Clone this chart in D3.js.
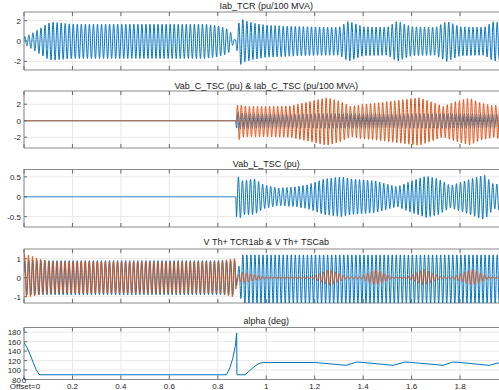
<!DOCTYPE html>
<html>
<head>
<meta charset="utf-8">
<script src="https://cdn.jsdelivr.net/npm/d3@7"></script>
<style>
  html, body { margin: 0; padding: 0; background: #fff; }
  svg { display: block; font-family: 'Liberation Sans', Arial, sans-serif; }
</style>
</head>
<body>
<div id="chart"></div>
<script>
// ---- data ----
const FREQ = 60; // Hz, one stroke pair per cycle
const xTicks = [0, 0.2, 0.4, 0.6, 0.8, 1, 1.2, 1.4, 1.6, 1.8, 2];
const xTickLabels = ['0', '0.2', '0.4', '0.6', '0.8', '1', '1.2', '1.4', '1.6', '1.8', '2'];

const titles = [
  'Iab_TCR (pu/100 MVA)',
  'Vab_C_TSC (pu) & Iab_C_TSC (pu/100 MVA)',
  'Vab_L_TSC (pu)',
  'V Th+ TCR1ab & V Th+ TSCab',
  'alpha (deg)'
];

const yTicks1 = [-2, 0, 2];
const yTicks2 = [-2, 0, 2];
const yTicks3 = [-0.5, 0, 0.5];
const yTicks4 = [-1, 0, 1];
const yTicks5 = [80, 100, 120, 140, 160, 180];

// envelopes (time, upper peak, lower peak)
const iTcrT  = [0, 0.02, 0.04, 0.07, 0.10, 0.12, 0.16, 0.20, 0.75, 0.80, 0.83, 0.85, 0.862, 0.872, 0.884, 0.892, 0.91, 0.95, 1.00, 1.10, 1.20, 1.30, 1.34, 1.40, 1.50, 1.54, 1.60, 1.70, 1.745, 1.80, 1.90, 1.94, 2.00];
const iTcrUp = [0.4, 0.6, 0.85, 1.3, 1.75, 1.85, 1.75, 1.65, 1.65, 1.5, 1.3, 1.0, 0.4, 0.1, 1.5, 2.25, 2.0, 1.75, 1.55, 1.45, 1.38, 1.35, 1.95, 1.4, 1.35, 1.95, 1.4, 1.35, 1.95, 1.4, 1.35, 1.95, 1.45];
const iTcrLo = [0.3, 0.6, 0.9, 1.35, 1.8, 1.9, 1.8, 1.72, 1.72, 1.55, 1.35, 1.05, 0.4, 0.1, 1.6, 2.35, 2.05, 1.8, 1.6, 1.5, 1.42, 1.4, 2.0, 1.45, 1.4, 2.0, 1.45, 1.4, 2.0, 1.45, 1.4, 2.0, 1.5];

const vCT  = [0, 0.874, 0.878, 0.89, 0.95, 1.2, 1.5, 1.8, 2.0];
const vCUp = [0, 0, 1.1, 0.95, 0.85, 0.85, 0.85, 0.85, 0.85];
const vCLo = [0, 0, 1.2, 1.0, 0.9, 0.9, 0.9, 0.9, 0.9];

const iCT  = [0, 0.874, 0.878, 0.886, 0.895, 0.92, 1.00, 1.10, 1.16, 1.25, 1.30, 1.35, 1.40, 1.44, 1.55, 1.63, 1.68, 1.73, 1.78, 1.84, 1.88, 1.94, 2.00];
const iCUp = [0, 0, 1.2, 3.0, 1.9, 1.75, 1.75, 1.8, 2.2, 2.8, 2.4, 1.75, 2.0, 2.1, 2.5, 2.8, 2.3, 1.75, 2.3, 2.75, 2.2, 1.8, 2.4];
const iCLo = [0, 0, 1.2, 2.4, 2.0, 1.95, 1.95, 2.0, 2.4, 3.0, 2.6, 1.95, 2.2, 2.3, 2.7, 3.0, 2.5, 1.95, 2.5, 2.95, 2.4, 2.0, 2.6];

const vLT  = [0, 0.874, 0.877, 0.885, 0.90, 0.95, 0.99, 1.05, 1.12, 1.17, 1.24, 1.31, 1.35, 1.45, 1.54, 1.60, 1.66, 1.71, 1.76, 1.82, 1.90, 1.94, 2.00];
const vLUp = [0, 0, 0.45, 0.5, 0.4, 0.45, 0.3, 0.22, 0.25, 0.3, 0.45, 0.5, 0.45, 0.4, 0.25, 0.4, 0.52, 0.45, 0.28, 0.4, 0.55, 0.3, 0.4];
const vLLo = [0, 0, 0.5, 0.62, 0.45, 0.45, 0.3, 0.22, 0.25, 0.3, 0.45, 0.5, 0.45, 0.4, 0.25, 0.4, 0.52, 0.45, 0.28, 0.4, 0.58, 0.3, 0.4];

const thTcrT  = [0, 0.80, 0.87, 0.88, 0.90, 1.00, 2.00];
const thTcrUp = [0.9, 0.9, 0.9, 0.3, 1.2, 1.2, 1.2];
const thTcrLo = [0.9, 0.9, 0.9, 0.3, 1.35, 1.35, 1.35];

const thTscT  = [0, 0.03, 0.06, 0.10, 0.15, 0.80, 0.86, 0.874, 0.878, 0.90, 0.95, 1.00, 1.19, 1.26, 1.33, 1.39, 1.45, 1.52, 1.58, 1.65, 1.72, 1.77, 1.85, 1.92, 2.00];
const thTscUp = [1.25, 1.15, 1.0, 0.88, 0.85, 0.85, 1.0, 1.0, 0.05, 0.3, 0.15, 0.05, 0.05, 0.45, 0.05, 0.05, 0.45, 0.05, 0.05, 0.45, 0.05, 0.05, 0.45, 0.05, 0.05];
const thTscLo = [1.0, 1.0, 0.9, 0.82, 0.82, 0.82, 1.0, 1.0, 0.05, 0.3, 0.15, 0.05, 0.05, 0.4, 0.05, 0.05, 0.4, 0.05, 0.05, 0.4, 0.05, 0.05, 0.4, 0.05, 0.05];

const alphaT = [0, 0.012, 0.025, 0.038, 0.05, 0.062, 0.066, 0.836, 0.85, 0.862, 0.872, 0.878, 0.879, 0.912, 0.93, 0.95, 0.97, 0.99, 1.2, 1.33, 1.373, 1.4, 1.524, 1.572, 1.6, 1.73, 1.77, 1.8, 1.92, 1.956, 2.0];
const alphaV = [158, 148, 133, 116, 101, 91, 90, 90, 105, 125, 150, 178, 90, 90, 98, 107, 114, 116, 116, 110, 117, 116, 110, 117, 116, 110, 117, 116, 110, 115, 114];

// ---- drawing ----
const W = 499, H = 390;
const BLUE = '#0072bd', ORANGE = '#d95319';
const left = 24, right = 508.5;

const panels = [
  { top: 12,    bottom: 70,    dom: [-2.85, 2.85], ticks: yTicks1, titleY: 9 },
  { top: 91,    bottom: 148,   dom: [-3.3, 3.6],   ticks: yTicks2, titleY: 89 },
  { top: 169.5, bottom: 227,   dom: [-0.76, 0.685], ticks: yTicks3, titleY: 167 },
  { top: 249,   bottom: 303,   dom: [-1.33, 1.51], ticks: yTicks4, titleY: 245 },
  { top: 327.5, bottom: 379.5, dom: [80, 190],     ticks: yTicks5, titleY: 324 }
];

const x = d3.scaleLinear().domain([0, 2]).range([left, right]);

const svg = d3.select('#chart').append('svg')
  .attr('width', W).attr('height', H);

// build a wave from an envelope: sample the carrier, scale by upper/lower peaks
function wave(T, up, lo, phase) {
  const upS = d3.scaleLinear().domain(T).range(up).clamp(true);
  const loS = d3.scaleLinear().domain(T).range(lo).clamp(true);
  const n = Math.round(2 * FREQ * 40);
  return d3.range(n + 1).map(i => {
    const t = 2 * i / n;
    const s = Math.sin(2 * Math.PI * FREQ * t + phase);
    return [t, s >= 0 ? s * upS(t) : s * loS(t)];
  });
}

panels.forEach((p, i) => {
  const y = d3.scaleLinear().domain(p.dom).range([p.bottom, p.top]);
  p.y = y;
  const g = svg.append('g');

  // grid
  g.selectAll('.gx').data(xTicks).join('line')
    .attr('x1', d => x(d)).attr('x2', d => x(d))
    .attr('y1', p.top).attr('y2', p.bottom)
    .attr('stroke', '#e8e8e8').attr('stroke-width', 1);
  g.selectAll('.gy').data(p.ticks).join('line')
    .attr('x1', left).attr('x2', right)
    .attr('y1', d => y(d)).attr('y2', d => y(d))
    .attr('stroke', '#e8e8e8').attr('stroke-width', 1);

  svg.append('clipPath').attr('id', 'clip' + i)
    .append('rect').attr('x', left).attr('y', p.top)
    .attr('width', right - left).attr('height', p.bottom - p.top);
  p.plot = svg.append('g').attr('clip-path', `url(#clip${i})`);

  // box
  g.append('path')
    .attr('d', `M${right},${p.top}H${left}V${p.bottom}H${right}`)
    .attr('fill', 'none').attr('stroke', '#8a8a8a').attr('stroke-width', 1);

  // ticks (inward)
  xTicks.forEach(d => {
    g.append('line').attr('x1', x(d)).attr('x2', x(d))
      .attr('y1', p.top).attr('y2', p.top + 4).attr('stroke', '#6a6a6a');
    g.append('line').attr('x1', x(d)).attr('x2', x(d))
      .attr('y1', p.bottom).attr('y2', p.bottom - 4).attr('stroke', '#6a6a6a');
  });
  g.selectAll('.ty').data(p.ticks).join('line')
    .attr('x1', left).attr('x2', left + 3)
    .attr('y1', d => y(d)).attr('y2', d => y(d)).attr('stroke', '#6a6a6a');

  g.selectAll('.tl').data(p.ticks).join('text')
    .attr('x', left - 3).attr('y', d => y(d) + 3)
    .attr('text-anchor', 'end').attr('font-size', 8).attr('fill', '#262626')
    .text(d => d);

  svg.append('text')
    .attr('x', (left + right) / 2).attr('y', p.titleY)
    .attr('text-anchor', 'middle').attr('font-size', 9).attr('fill', '#1a1a1a')
    .text(titles[i]);
});

const line = (y) => d3.line().x(d => x(d[0])).y(d => y(d[1]));

function drawWave(p, data, color) {
  p.plot.append('path').datum(data)
    .attr('fill', 'none').attr('stroke', color).attr('stroke-width', 1)
    .attr('d', line(p.y));
}

drawWave(panels[0], wave(iTcrT, iTcrUp, iTcrLo, 0.3), BLUE);
drawWave(panels[1], wave(vCT, vCUp, vCLo, 1.2), BLUE);
drawWave(panels[1], wave(iCT, iCUp, iCLo, 2.6), ORANGE);
drawWave(panels[2], wave(vLT, vLUp, vLLo, 0.9), BLUE);
drawWave(panels[3], wave(thTcrT, thTcrUp, thTcrLo, 0.3), BLUE);
drawWave(panels[3], wave(thTscT, thTscUp, thTscLo, 0.9), ORANGE);

panels[4].plot.append('path')
  .datum(alphaT.map((t, i) => [t, alphaV[i]]))
  .attr('fill', 'none').attr('stroke', BLUE).attr('stroke-width', 1)
  .attr('d', line(panels[4].y));

// x tick labels (bottom panel only, those that fall inside the picture)
const shown = xTicks.map((d, i) => ({ d, label: xTickLabels[i] }))
  .filter(o => o.d > 0 && x(o.d) + 8 < W);
svg.selectAll('.xl').data(shown).join('text')
  .attr('x', o => x(o.d)).attr('y', 388.5)
  .attr('text-anchor', 'middle').attr('font-size', 8).attr('fill', '#262626')
  .text(o => o.label);
svg.append('text').attr('x', x(0)).attr('y', 383)
  .attr('text-anchor', 'middle').attr('font-size', 8).attr('fill', '#262626')
  .text(xTickLabels[0]);
svg.append('text').attr('x', 25).attr('y', 389)
  .attr('text-anchor', 'middle').attr('font-size', 8).attr('fill', '#262626')
  .text('Offset=0');
</script>
</body>
</html>
